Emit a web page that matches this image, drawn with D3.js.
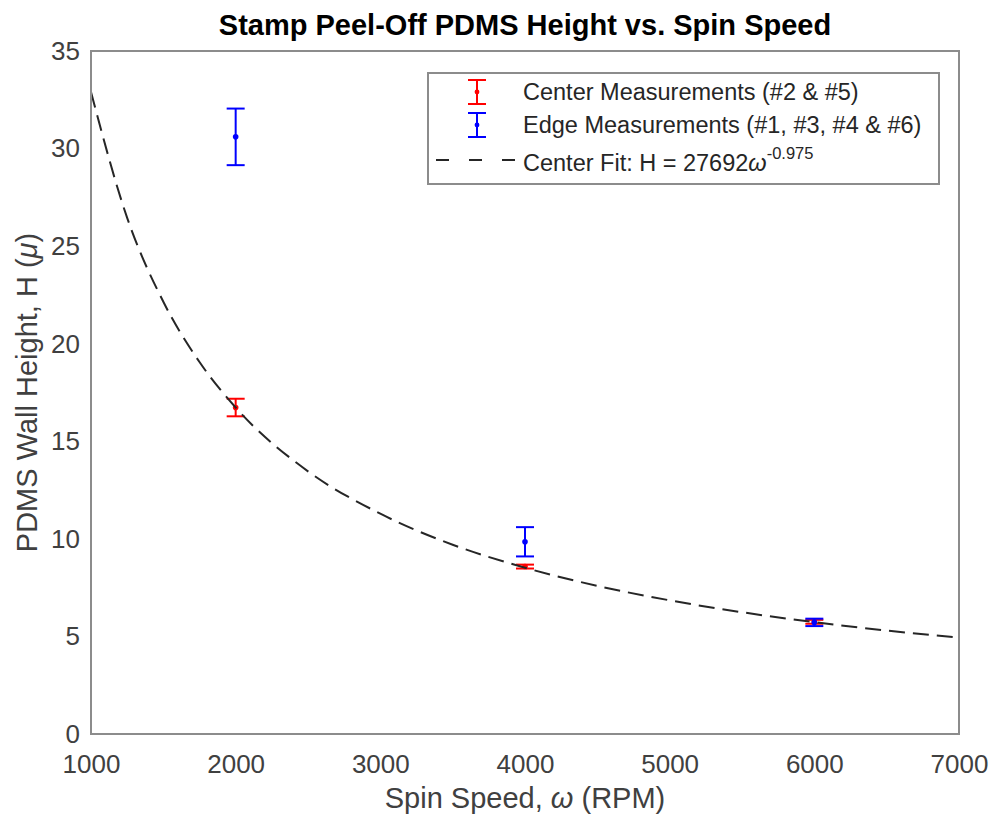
<!DOCTYPE html>
<html>
<head>
<meta charset="utf-8">
<script src="https://cdn.jsdelivr.net/npm/d3@7"></script>
<style>
  body { margin: 0; background: #fff; }
  text { font-family: "Liberation Sans", Arial, Helvetica, sans-serif; }
</style>
</head>
<body>
<script>
const rpm = [2000, 4000, 6000];
const centerH = [16.73, 8.58, 5.75];
const centerErr = [0.45, 0.1, 0.1];
const edgeH = [30.6, 9.85, 5.72];
const edgeErr = [1.45, 0.75, 0.19];

// fitted curve, sampled from the plot
const fitRpm = [1000, 1250, 1500, 1750, 2000, 2500, 3000, 3500, 4000, 4500, 5000, 5500, 6000, 6500, 7000];
const fitH = [32.9, 26.45, 22.15, 19.06, 16.73, 13.46, 11.29, 9.70, 8.52, 7.59, 6.85, 6.24, 5.73, 5.30, 4.94];

const xTicks = [1000, 2000, 3000, 4000, 5000, 6000, 7000];
const yTicks = [0, 5, 10, 15, 20, 25, 30, 35];

const WIDTH = 992, HEIGHT = 818;
let margin = {top: 51, right: 33, bottom: 84, left: 91},
    width = WIDTH - margin.left - margin.right,
    height = HEIGHT - margin.top - margin.bottom;

let svg = d3.select("body").append("svg")
    .attr("width", WIDTH)
    .attr("height", HEIGHT);

let plot = svg.append("g")
    .attr("transform", "translate(" + margin.left + "," + margin.top + ")");

let xScale = d3.scaleLinear().domain([1000, 7000]).range([0, width]);
let yScale = d3.scaleLinear().domain([0, 35]).range([height, 0]);

// axes, no tick marks
let xAxis = plot.append("g")
    .attr("transform", "translate(0," + height + ")")
    .call(d3.axisBottom(xScale).tickValues(xTicks).tickSize(0).tickPadding(21).tickFormat(d3.format("d")));
let yAxis = plot.append("g")
    .call(d3.axisLeft(yScale).tickValues(yTicks).tickSize(0).tickPadding(11));

[xAxis, yAxis].forEach(a => {
    a.select(".domain").remove();
    a.selectAll("text")
        .attr("font-family", "\"Liberation Sans\", Arial, Helvetica, sans-serif")
        .attr("font-size", 26)
        .attr("fill", "#404040");
});

// fit curve
let line = d3.line()
    .x((d, i) => xScale(fitRpm[i]))
    .y(d => yScale(d))
    .curve(d3.curveMonotoneX);

let clip = plot.append("clipPath").attr("id", "clip")
    .append("rect").attr("width", width).attr("height", height);

// error bars
function errorbars(vals, errs, color) {
    let g = plot.append("g");
    vals.forEach((v, i) => {
        let x = xScale(rpm[i]),
            y1 = yScale(v + errs[i]),
            y0 = yScale(v - errs[i]);
        g.append("line").attr("x1", x).attr("x2", x).attr("y1", y1).attr("y2", y0)
            .attr("stroke", color).attr("stroke-width", 2);
        [y1, y0].forEach(y => {
            g.append("line").attr("x1", x - 9).attr("x2", x + 9).attr("y1", y).attr("y2", y)
                .attr("stroke", color).attr("stroke-width", 2);
        });
        g.append("circle").attr("cx", x).attr("cy", yScale(v)).attr("r", 2.8).attr("fill", color);
    });
}
errorbars(centerH, centerErr, "#ff0000");
errorbars(edgeH, edgeErr, "#0000ff");

plot.append("path")
    .datum(fitH)
    .attr("clip-path", "url(#clip)")
    .attr("d", line)
    .attr("fill", "none")
    .attr("stroke", "#262626")
    .attr("stroke-width", 2)
    .attr("stroke-dasharray", "16,8");

// box
plot.append("rect")
    .attr("width", width).attr("height", height)
    .attr("fill", "none")
    .attr("stroke", "#8c8c8c")
    .attr("stroke-width", 2);

// title and labels
svg.append("text")
    .attr("x", margin.left + width / 2).attr("y", 35)
    .attr("text-anchor", "middle")
    .attr("font-size", 29).attr("font-weight", "bold")
    .attr("fill", "#000")
    .text("Stamp Peel-Off PDMS Height vs. Spin Speed");

let xl = svg.append("text")
    .attr("x", margin.left + width / 2).attr("y", 808)
    .attr("text-anchor", "middle")
    .attr("font-size", 29).attr("fill", "#404040");
xl.append("tspan").text("Spin Speed, ");
xl.append("tspan").attr("font-style", "italic").text("ω");
xl.append("tspan").text(" (RPM)");

let yl = svg.append("text")
    .attr("transform", "translate(37," + (margin.top + height / 2) + ") rotate(-90)")
    .attr("text-anchor", "middle")
    .attr("font-size", 29).attr("fill", "#404040");
yl.append("tspan").text("PDMS Wall Height, H (");
yl.append("tspan").attr("font-style", "italic").text("μ");
yl.append("tspan").text(")");

// legend
let legend = svg.append("g").attr("transform", "translate(428,73)");
legend.append("rect")
    .attr("width", 511).attr("height", 111)
    .attr("fill", "#fff")
    .attr("stroke", "#8c8c8c").attr("stroke-width", 2);

let legendItems = [
    {color: "#ff0000", y: 19, label: "Center Measurements (#2 & #5)"},
    {color: "#0000ff", y: 52, label: "Edge Measurements (#1, #3, #4 & #6)"}
];
legendItems.forEach(it => {
    let cx = 49;
    legend.append("line").attr("x1", cx).attr("x2", cx).attr("y1", it.y - 12).attr("y2", it.y + 12)
        .attr("stroke", it.color).attr("stroke-width", 2);
    [it.y - 12, it.y + 12].forEach(y => {
        legend.append("line").attr("x1", cx - 9).attr("x2", cx + 9).attr("y1", y).attr("y2", y)
            .attr("stroke", it.color).attr("stroke-width", 2);
    });
    legend.append("circle").attr("cx", cx).attr("cy", it.y).attr("r", 2.4).attr("fill", it.color);
    legend.append("text").attr("x", 95).attr("y", it.y + 8)
        .attr("font-size", 23.5).attr("fill", "#262626").text(it.label);
});

legend.append("line").attr("x1", 8).attr("x2", 88).attr("y1", 87).attr("y2", 87)
    .attr("stroke", "#262626").attr("stroke-width", 2).attr("stroke-dasharray", "13,20");
let ft = legend.append("text").attr("x", 95).attr("y", 98)
    .attr("font-size", 23.5).attr("fill", "#262626");
ft.append("tspan").text("Center Fit: H = 27692");
ft.append("tspan").attr("font-style", "italic").text("ω");
ft.append("tspan").attr("font-size", 16.5).attr("dy", -12).text("-0.975");
</script>
</body>
</html>
